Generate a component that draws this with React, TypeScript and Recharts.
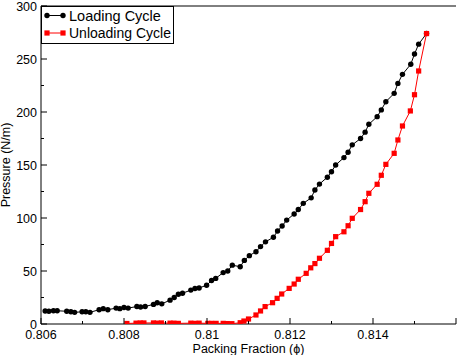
import { ScatterChart, Scatter, XAxis, YAxis, Legend } from 'recharts'

const loadingPhi = [
  0.8061, 0.80619, 0.8063, 0.80639, 0.80662, 0.80672, 0.80681, 0.80699, 0.80708, 0.80718,
  0.8074, 0.8075, 0.80761, 0.80781, 0.8079, 0.808, 0.8081, 0.80831, 0.8084, 0.80851,
  0.80871, 0.8088, 0.80891, 0.80911, 0.80921, 0.80931, 0.80941, 0.80961, 0.80971, 0.80981,
  0.80999, 0.81011, 0.81021, 0.81039, 0.8105, 0.81061, 0.8108, 0.8109, 0.81102, 0.81118,
  0.81129, 0.81141, 0.8116, 0.8117, 0.81181, 0.81192, 0.8121, 0.8122, 0.81232, 0.81251,
  0.8126, 0.81271, 0.8129, 0.813, 0.8131, 0.8133, 0.8134, 0.8135, 0.8137, 0.81381,
  0.8139, 0.8141, 0.8142, 0.81431, 0.81451, 0.8146, 0.81471, 0.81491, 0.815, 0.8151, 0.81529,
]
const loadingP = [
  12.3, 12, 12.5, 12.5, 12, 11.5, 11, 11.5, 11.5, 11,
  13.5, 14.5, 13.5, 15, 14.5, 15.5, 15, 16.5, 16, 16.5,
  18.5, 20, 19, 22.5, 25, 28, 29, 32, 33.5, 34,
  36.5, 41, 43, 48.5, 50, 55.5, 54, 60, 64.5, 68.2,
  73, 77.5, 81.8, 87.7, 92.5, 98, 103.8, 108, 113.8, 119,
  126.4, 132, 138.5, 143.7, 150, 157, 162, 169, 175, 181,
  188.4, 195.6, 202, 209.7, 217.6, 227, 235.5, 245, 254.7, 264, 274,
]

const unloadingPhi = [
  0.80807, 0.80829, 0.80839, 0.80848, 0.80871, 0.8088, 0.8089, 0.80911, 0.8092, 0.80931,
  0.80961, 0.80971, 0.80981, 0.81002, 0.81011, 0.81022, 0.81039, 0.81049, 0.8106, 0.8108,
  0.81089, 0.811, 0.81118, 0.81129, 0.8114, 0.81158, 0.81169, 0.8118, 0.81198, 0.8121,
  0.8122, 0.81239, 0.8125, 0.8126, 0.81271, 0.8129, 0.813, 0.8131, 0.8133, 0.8134,
  0.8135, 0.8137, 0.81381, 0.8139, 0.8141, 0.8142, 0.81431, 0.81451, 0.8146, 0.81471,
  0.8149, 0.815, 0.8151, 0.81529,
]
const unloadingP = [
  0.5, 0.8, 1, 1, 1, 0.8, 1, 0.8, 0.8, 0.6,
  0.8, 0.6, 0.8, 0.6, 0.6, 0.6, 0.6, 0.4, 0.3, 1.2,
  2.8, 4.7, 8.5, 12.3, 16.4, 20.1, 24.2, 28.3, 33.6, 37.7,
  42.2, 47.8, 53, 57, 62, 69.5, 76, 82.4, 87, 92.7,
  99.7, 108, 115.4, 123.3, 131.8, 140.3, 150.6, 161, 173.6, 186.8,
  201, 216.3, 238.7, 274,
]

const xTicks = [0.806, 0.807, 0.808, 0.809, 0.81, 0.811, 0.812, 0.813, 0.814, 0.815, 0.816]
const yTicks = [0, 25, 50, 75, 100, 125, 150, 175, 200, 225, 250, 275, 300]
const xLabelled = [0.806, 0.808, 0.81, 0.812, 0.814]

const loading = loadingPhi.map((phi, i) => ({ phi, p: loadingP[i] }))
const unloading = unloadingPhi.map((phi, i) => ({ phi, p: unloadingP[i] }))

const FONT = '"Liberation Sans", Arial, Helvetica, sans-serif'

const isMajorX = (v: number) => Math.round(v * 1000) % 2 === 0
const isMajorY = (v: number) => v % 50 === 0

// ticks point into the plot, like the xmgrace original
const BottomTick = (props: any) => {
  const { x, y, payload } = props
  const v = payload.value
  const len = isMajorX(v) ? 6 : 3
  const show = xLabelled.some((t) => Math.abs(t - v) < 1e-9)
  return (
    <g>
      <line x1={x} y1={y} x2={x} y2={y - len} stroke="#000" />
      {show && (
        <text x={x} y={y + 14.5} textAnchor="middle" fontSize={12.5} fontFamily={FONT} fill="#000">
          {Number(v.toFixed(3)).toString()}
        </text>
      )}
    </g>
  )
}

const TopTick = (props: any) => {
  const { x, y, payload } = props
  const len = isMajorX(payload.value) ? 6 : 3
  return <line x1={x} y1={y} x2={x} y2={y + len} stroke="#000" />
}

const LeftTick = (props: any) => {
  const { x, y, payload } = props
  const v = payload.value
  const major = isMajorY(v)
  return (
    <g>
      <line x1={x} y1={y} x2={x + (major ? 6 : 3)} y2={y} stroke="#000" />
      {major && (
        <text x={x - 4} y={y + 4.5} textAnchor="end" fontSize={12.5} fontFamily={FONT} fill="#000">
          {v}
        </text>
      )}
    </g>
  )
}

const RightTick = (props: any) => {
  const { x, y, payload } = props
  const len = isMajorY(payload.value) ? 6 : 3
  return <line x1={x} y1={y} x2={x - len} y2={y} stroke="#000" />
}

const Dot = (props: any) => <circle cx={props.cx} cy={props.cy} r={2.7} fill="#000" />
const Square = (props: any) => <rect x={props.cx - 2.6} y={props.cy - 2.6} width={5.2} height={5.2} fill="#ff0000" />

const renderLegend = () => (
  <svg width={133} height={38} style={{ display: 'block' }}>
    <rect x={0.5} y={0.5} width={132} height={37} fill="#fff" stroke="#000" />
    <line x1={6} y1={9.5} x2={22} y2={9.5} stroke="#000" />
    <circle cx={6} cy={9.5} r={2.7} fill="#000" />
    <circle cx={22} cy={9.5} r={2.7} fill="#000" />
    <text x={28} y={14.5} fontSize={14.5} fontFamily={FONT} fill="#000">Loading Cycle</text>
    <line x1={6} y1={27} x2={22} y2={27} stroke="#ff0000" />
    <rect x={3.4} y={24.4} width={5.2} height={5.2} fill="#ff0000" />
    <rect x={19.4} y={24.4} width={5.2} height={5.2} fill="#ff0000" />
    <text x={28} y={32} fontSize={14} fontFamily={FONT} fill="#000">Unloading Cycle</text>
  </svg>
)

export default function App() {
  return (
    <div style={{ position: 'absolute', left: 0, top: 0, width: 457, height: 355, background: '#fff' }}>
      <ScatterChart width={457} height={355} margin={{ top: 0, right: 1, bottom: 0, left: 0 }}>
        <XAxis
          dataKey="phi"
          type="number"
          domain={[0.806, 0.816]}
          ticks={xTicks}
          interval={0}
          allowDataOverflow
          height={31}
          tickSize={0}
          tickMargin={0}
          tickLine={false}
          axisLine={{ stroke: '#000' }}
          tick={<BottomTick />}
          label={{ value: 'Packing Fraction (\u03d5)', position: 'insideBottom', offset: 2, fontSize: 12.5, fontFamily: FONT, fill: '#000' }}
        />
        <XAxis
          xAxisId="top"
          orientation="top"
          type="number"
          domain={[0.806, 0.816]}
          ticks={xTicks}
          interval={0}
          allowDataOverflow
          height={6}
          tickSize={0}
          tickMargin={0}
          tickLine={false}
          axisLine={{ stroke: '#000' }}
          tick={<TopTick />}
        />
        <YAxis
          dataKey="p"
          type="number"
          domain={[0, 300]}
          ticks={yTicks}
          interval={0}
          allowDataOverflow
          width={41}
          tickSize={0}
          tickMargin={0}
          tickLine={false}
          axisLine={{ stroke: '#000' }}
          tick={<LeftTick />}
          label={{ value: 'Pressure (N/m)', angle: -90, position: 'insideLeft', offset: 6, fontSize: 12.5, fontFamily: FONT, fill: '#000', style: { textAnchor: 'middle' } }}
        />
        <YAxis
          yAxisId="right"
          orientation="right"
          type="number"
          domain={[0, 300]}
          ticks={yTicks}
          interval={0}
          allowDataOverflow
          width={0}
          tickSize={0}
          tickMargin={0}
          tickLine={false}
          axisLine={{ stroke: '#000' }}
          tick={<RightTick />}
        />
        <Legend
          layout="horizontal"
          verticalAlign="middle"
          align="center"
          wrapperStyle={{ left: 41, top: 6, width: 133, height: 38 }}
          content={renderLegend}
        />
        <Scatter
          name="Loading Cycle"
          data={loading}
          line={{ stroke: '#000', strokeWidth: 1 }}
          shape={<Dot />}
          isAnimationActive={false}
        />
        <Scatter
          name="Unloading Cycle"
          data={unloading}
          line={{ stroke: '#ff0000', strokeWidth: 1 }}
          shape={<Square />}
          isAnimationActive={false}
        />
      </ScatterChart>
    </div>
  )
}
